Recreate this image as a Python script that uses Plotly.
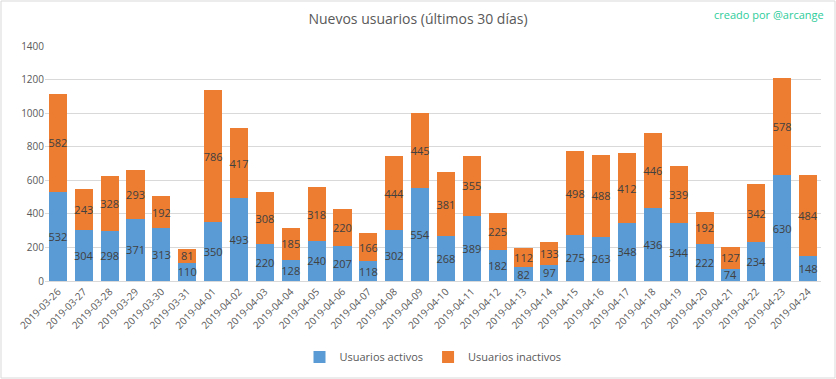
import plotly.graph_objects as go

dates = ["2019-03-26","2019-03-27","2019-03-28","2019-03-29","2019-03-30","2019-03-31",
         "2019-04-01","2019-04-02","2019-04-03","2019-04-04","2019-04-05","2019-04-06",
         "2019-04-07","2019-04-08","2019-04-09","2019-04-10","2019-04-11","2019-04-12",
         "2019-04-13","2019-04-14","2019-04-15","2019-04-16","2019-04-17","2019-04-18",
         "2019-04-19","2019-04-20","2019-04-21","2019-04-22","2019-04-23","2019-04-24"]
activos = [532,304,298,371,313,110,350,493,220,128,240,207,118,302,554,268,389,182,82,97,
           275,263,348,436,344,222,74,234,630,148]
inactivos = [582,243,328,293,192,81,786,417,308,185,318,220,166,444,445,381,355,225,112,133,
             498,488,412,446,339,192,127,342,578,484]
y_ticks = [0,200,400,600,800,1000,1200,1400]

FONT = "Open Sans"
L, R, T, B = 45, 15, 46, 98
PW, PH = 836 - L - R, 379 - T - B

fig = go.Figure()
for name, vals, col in [("Usuarios activos", activos, "#5B9BD5"),
                        ("Usuarios inactivos", inactivos, "#ED7D31")]:
    fig.add_trace(go.Bar(x=dates, y=vals, name=name, marker_color=col,
                         text=[str(v) for v in vals], textposition="inside", textangle=0,
                         insidetextanchor="middle", constraintext="none",
                         textfont=dict(color="#404040", size=11, family=FONT),
                         marker_line_width=0))

fig.update_layout(
    barmode="stack", bargap=0.3,
    width=836, height=379,
    margin=dict(l=L, r=R, t=T, b=B, autoexpand=False),
    paper_bgcolor="white", plot_bgcolor="white",
    font=dict(family=FONT, color="#595959", size=10),
    uniformtext=dict(minsize=11, mode="show"),
    title=dict(text="Nuevos usuarios (últimos 30 días)", x=0.5, xanchor="center",
               y=1-19/379, yanchor="middle", font=dict(size=14, color="#595959", family=FONT)),
    legend=dict(orientation="h", x=0.5, xanchor="center", y=-76/PH, yanchor="middle",
                font=dict(size=11, color="#595959"), traceorder="normal", itemwidth=30),
    xaxis=dict(type="category", tickangle=-45, tickfont=dict(size=10, color="#595959"),
               showline=True, linecolor="#D9D9D9", ticks="", automargin=False),
    yaxis=dict(range=[0,1400], tickvals=y_ticks, showgrid=True, gridcolor="#D9D9D9",
               zeroline=False, tickfont=dict(size=10, color="#595959"), ticks="",
               automargin=False),
    annotations=[dict(text="creado por @arcange", xref="paper", yref="paper",
                      x=(826-L)/PW, xanchor="right", y=1+(T-15)/PH, yanchor="middle",
                      showarrow=False, font=dict(size=11, color="#2ECC9A", family=FONT))],
    shapes=[dict(type="rect", xref="paper", yref="paper",
                 x0=-(L-1)/PW, x1=1+(R-1)/PW, y0=-(B-1)/PH, y1=1+(T-1)/PH,
                 line=dict(color="#D9D9D9", width=1))],
)
fig.write_html("out.html", config={"displayModeBar": False},
               post_script="document.body.style.margin='0';document.body.style.overflow='hidden';")
